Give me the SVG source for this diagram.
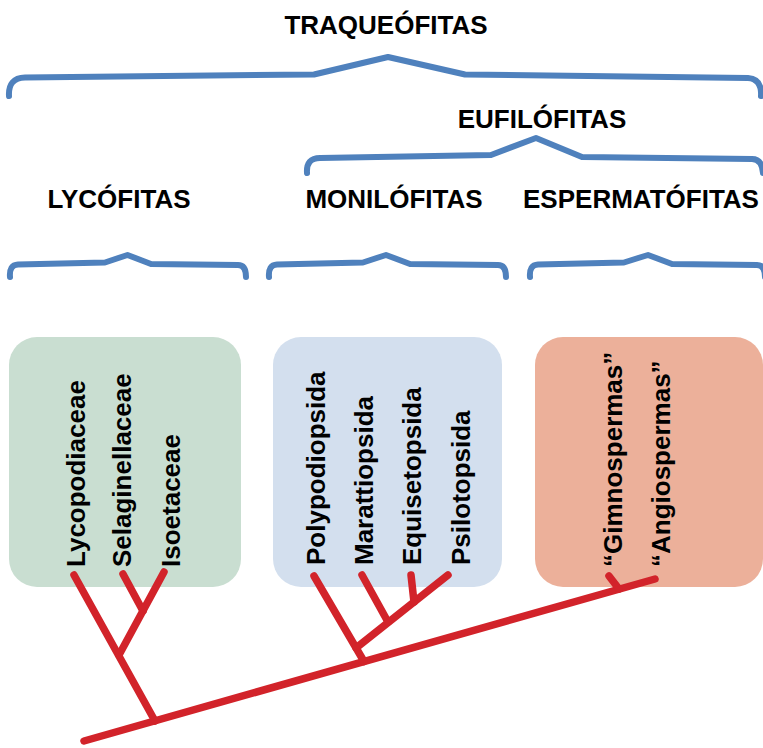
<svg xmlns="http://www.w3.org/2000/svg" width="763" height="748" viewBox="0 0 763 748">
<style>
.hdr{font-family:"Liberation Sans",Arial,sans-serif;font-weight:bold;font-size:26px;fill:#000;text-anchor:middle}
.lbl{font-family:"Liberation Sans",Arial,sans-serif;font-weight:bold;font-size:26px;fill:#000}
.brace{fill:none;stroke:#4F81BD;stroke-width:6;stroke-linecap:round;stroke-linejoin:round}
.br{fill:none;stroke:#D2232A;stroke-width:7.5;stroke-linecap:round;stroke-linejoin:round}
</style>
<rect width="763" height="748" fill="#fff"/>
<g id="headers">
<text class="hdr" x="386" y="34">TRAQUEÓFITAS</text>
<text class="hdr" x="542" y="128">EUFILÓFITAS</text>
<text class="hdr" x="119" y="208">LYCÓFITAS</text>
<text class="hdr" x="394" y="208">MONILÓFITAS</text>
<text class="hdr" x="641" y="208">ESPERMATÓFITAS</text>
</g>
<g id="braces">
<path class="brace" d="M9 96 Q8 78 25 77.5 L314 74.5 L388 57 L465 74.5 L748 78 Q762 79 761 96"/>
<path class="brace" d="M307 173 Q306 158 320 158 L491 155 L536 138 L582 157 L752 159 Q762 159 763 173"/>
<path class="brace" d="M10 277 Q9 265 18 264.5 L105 262.5 L127.5 255 L151 264 L238 265 Q246 265 246 277"/>
<path class="brace" d="M269 277 Q268 265 277 264.5 L363 262.5 L386 255 L410 264 L498 265 Q506 265 506 277"/>
<path class="brace" d="M530 277 Q529 265 538 264.5 L624 262.5 L648 255 L672 264 L757 265 Q765 265 765 277"/>
</g>
<g id="lycofitas">
<rect x="9" y="337" width="232" height="250" rx="28" fill="#C9DED1"/>
<text class="lbl" transform="translate(85,567) rotate(-90)">Lycopodiaceae</text>
<text class="lbl" transform="translate(131,567) rotate(-90)">Selaginellaceae</text>
<text class="lbl" transform="translate(180,567) rotate(-90)">Isoetaceae</text>
</g>
<g id="monilofitas">
<rect x="273" y="337" width="229" height="250" rx="28" fill="#D3DFEE"/>
<text class="lbl" transform="translate(325,565) rotate(-90)">Polypodiopsida</text>
<text class="lbl" transform="translate(373,565) rotate(-90)">Marattiopsida</text>
<text class="lbl" transform="translate(421,565) rotate(-90)">Equisetopsida</text>
<text class="lbl" transform="translate(470,565) rotate(-90)">Psilotopsida</text>
</g>
<g id="espermatofitas">
<rect x="535" y="337" width="228" height="250" rx="28" fill="#ECB09A"/>
<text class="lbl" transform="translate(622,567) rotate(-90)">“Gimnospermas”</text>
<text class="lbl" transform="translate(670,567) rotate(-90)">“Angiospermas”</text>
</g>
<g id="connectors">
<path class="br" d="M84 741 L655 579"/>
<path class="br" d="M609 576 L619 589"/>
<path class="br" d="M155 721 L74 575"/>
<path class="br" d="M119 655 L164 572"/>
<path class="br" d="M123 574 L143 611"/>
<path class="br" d="M364 661.5 L314 576"/>
<path class="br" d="M356 648 L448 575"/>
<path class="br" d="M362 575 L388 622"/>
<path class="br" d="M411 575 L414 602"/>
</g>
</svg>
